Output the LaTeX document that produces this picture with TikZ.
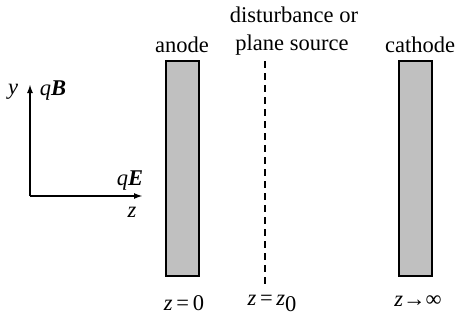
\documentclass[tikz,border=0pt]{standalone}
\usepackage{fontspec}
\setmainfont{Liberation Serif}
\usetikzlibrary{arrows.meta}
\begin{document}
\begin{tikzpicture}[x=1pt,y=-1pt,
  lbl/.style={inner sep=0pt,font=\fontsize{22.5}{25}\selectfont},
  electrode/.style={draw=black,line width=2pt,fill={rgb,255:red,192;green,192;blue,192},
    minimum width=33pt,minimum height=215pt,inner sep=0pt},
  axis/.style={line width=1.8pt,-{Latex[length=9pt,width=6pt]}}]
\useasboundingbox (0,0) rectangle (459,324);
% electrodes
\node[electrode] (anode) at (182.5,168.5) {};
\node[electrode] (cathode) at (415.5,168) {};
% dashed plane
\coordinate (dtop) at (265,61);
\coordinate (dbot) at (265,285);
\draw[line width=1.2pt,dash pattern=on 7pt off 5pt] (dtop) -- (dbot);
% labels
\node[lbl] (l1) at (294,15) {disturbance or};
\node[lbl] (l2) at (292,45) {plane source};
\node[lbl] (la) at (182,45) {anode};
\node[lbl] (lc) at (420,45) {cathode};
\node[lbl] (b1) at (184,303) {\textit{z}\,=\,0};
\node[lbl] (b2) at (272,303) {\textit{z}\,=\,\textit{z}\raisebox{-6pt}{0}};
\node[lbl] (b3) at (418,301) {\textit{z}→∞};
% axes
\coordinate (o) at (30,196);
\coordinate (yt) at (30,84);
\coordinate (xt) at (143,196);
\draw[axis] (o) -- (yt);
\draw[axis] (o) -- (xt);
\node[lbl] (ly) at (13,92) {\textit{y}};
\node[lbl] (lqb) at (53,91) {\textit{q}\textbf{\textit{B}}};
\node[lbl] (lqe) at (130,181) {\textit{q}\textbf{\textit{E}}};
\node[lbl] (lz) at (132,212) {\textit{z}};
\end{tikzpicture}
\end{document}
